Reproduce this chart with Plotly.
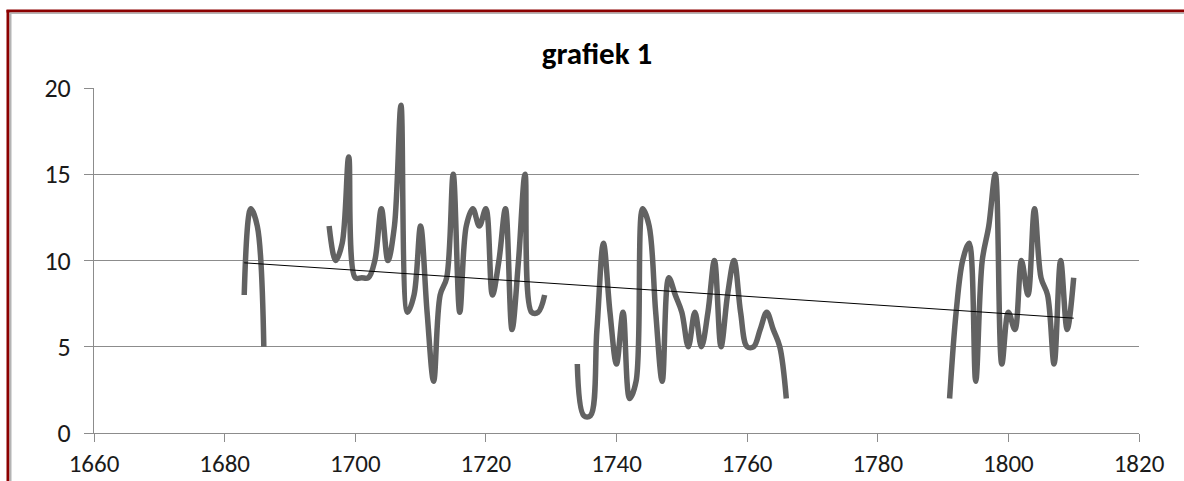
import numpy as np
import plotly.graph_objects as go

# ---- data ----
seg1_start = 1683
seg1_values = [8, 13, 12, 5]
seg2_start = 1696
seg2_values = [12, 10, 11, 16, 9, 9, 9, 10, 13, 10, 12, 19, 7, 8, 12, 7, 3, 8, 9, 15,
               7, 12, 13, 12, 13, 8, 10, 13, 6, 10, 15, 7, 7, 8]
seg3_start = 1734
seg3_values = [4, 1, 1, 6, 11, 7, 4, 7, 2, 3, 13, 12, 7, 3, 9, 8, 7, 5, 7, 5,
               7, 10, 5, 8, 10, 7, 5, 5, 6, 7, 6, 5, 2]
seg4_start = 1791
seg4_values = [2, 7, 10, 11, 3, 10, 12, 15, 4, 7, 6, 10, 8, 13, 9, 8, 4, 10, 6, 9]

x_ticks = [1660, 1680, 1700, 1720, 1740, 1760, 1780, 1800, 1820]
y_ticks = [0, 5, 10, 15, 20]
title_text = "grafiek 1"

segments = [(seg1_start, seg1_values), (seg2_start, seg2_values),
            (seg3_start, seg3_values), (seg4_start, seg4_values)]

xs, ys = [], []
obs_x, obs_y = [], []
for start, vals in segments:
    yrs = list(range(start, start + len(vals)))
    xs += yrs + [None]
    ys += list(vals) + [None]
    obs_x += yrs
    obs_y += list(vals)

# linear trendline (least squares over observed points)
slope, intercept = np.polyfit(obs_x, obs_y, 1)
trend_x = [min(obs_x), max(obs_x)]
trend_y = [slope * v + intercept for v in trend_x]

# ---- figure ----
W, H = 1184, 481
L, R, T, B = 94, 45, 88, 48
pw, ph = W - L - R, H - T - B

def pxx(p):
    return (p - L) / pw

def pyy(p):
    return (H - B - p) / ph

FONT = "Carlito, Calibri, Lato, sans-serif"
GRID = "#8c8c8c"

fig = go.Figure()
fig.add_trace(go.Scatter(
    x=xs, y=ys, mode="lines", connectgaps=False,
    line=dict(color="#626262", width=5.5, shape="spline", smoothing=1.0),
    hoverinfo="skip", showlegend=False))
fig.add_trace(go.Scatter(
    x=trend_x, y=trend_y, mode="lines",
    line=dict(color="#000000", width=1),
    hoverinfo="skip", showlegend=False))

shapes = [
    # outer frame (dark red + light grey inner edge)
    dict(type="line", xref="paper", yref="paper", x0=pxx(8), x1=pxx(8), y0=pyy(10), y1=pyy(490),
         line=dict(color="#8b0000", width=3)),
    dict(type="line", xref="paper", yref="paper", x0=pxx(10.5), x1=pxx(10.5), y0=pyy(12.5), y1=pyy(490),
         line=dict(color="#b4b4b4", width=2)),
    dict(type="line", xref="paper", yref="paper", x0=pxx(6.5), x1=pxx(1200), y0=pyy(11), y1=pyy(11),
         line=dict(color="#8b0000", width=3)),
    dict(type="line", xref="paper", yref="paper", x0=pxx(9.5), x1=pxx(1200), y0=pyy(13.2), y1=pyy(13.2),
         line=dict(color="#b4b4b4", width=1.5)),
]

fig.update_layout(
    width=W, height=H,
    margin=dict(l=L, r=R, t=T, b=B, pad=0, autoexpand=False),
    paper_bgcolor="white", plot_bgcolor="white",
    font=dict(family=FONT, size=26, color="#1a1a1a"),
    title=dict(text="<b>" + title_text + "</b>", x=597 / W, xanchor="center",
               y=(H - 53) / H, yanchor="middle", yref="container",
               font=dict(family=FONT, size=31, color="#000000")),
    shapes=shapes,
    xaxis=dict(range=[x_ticks[0], x_ticks[-1]], tickmode="array", tickvals=x_ticks,
               ticktext=[str(v) for v in x_ticks], automargin=False,
               showgrid=False, zeroline=False, showline=True, linecolor=GRID, linewidth=1,
               ticks="outside", ticklen=8, tickcolor=GRID, tickwidth=1,
               ticklabelstandoff=0, tickfont=dict(size=25)),
    yaxis=dict(range=[y_ticks[0], y_ticks[-1]], tickmode="array", tickvals=y_ticks,
               ticktext=[str(v) for v in y_ticks], automargin=False,
               showgrid=True, gridcolor=GRID, gridwidth=1, zeroline=False,
               showline=True, linecolor=GRID, linewidth=1,
               ticks="outside", ticklen=9, tickcolor=GRID, tickwidth=1,
               ticklabelstandoff=8),
)

fig.write_html("out.html", config={"displayModeBar": False},
               post_script="document.body.style.margin='0';")
